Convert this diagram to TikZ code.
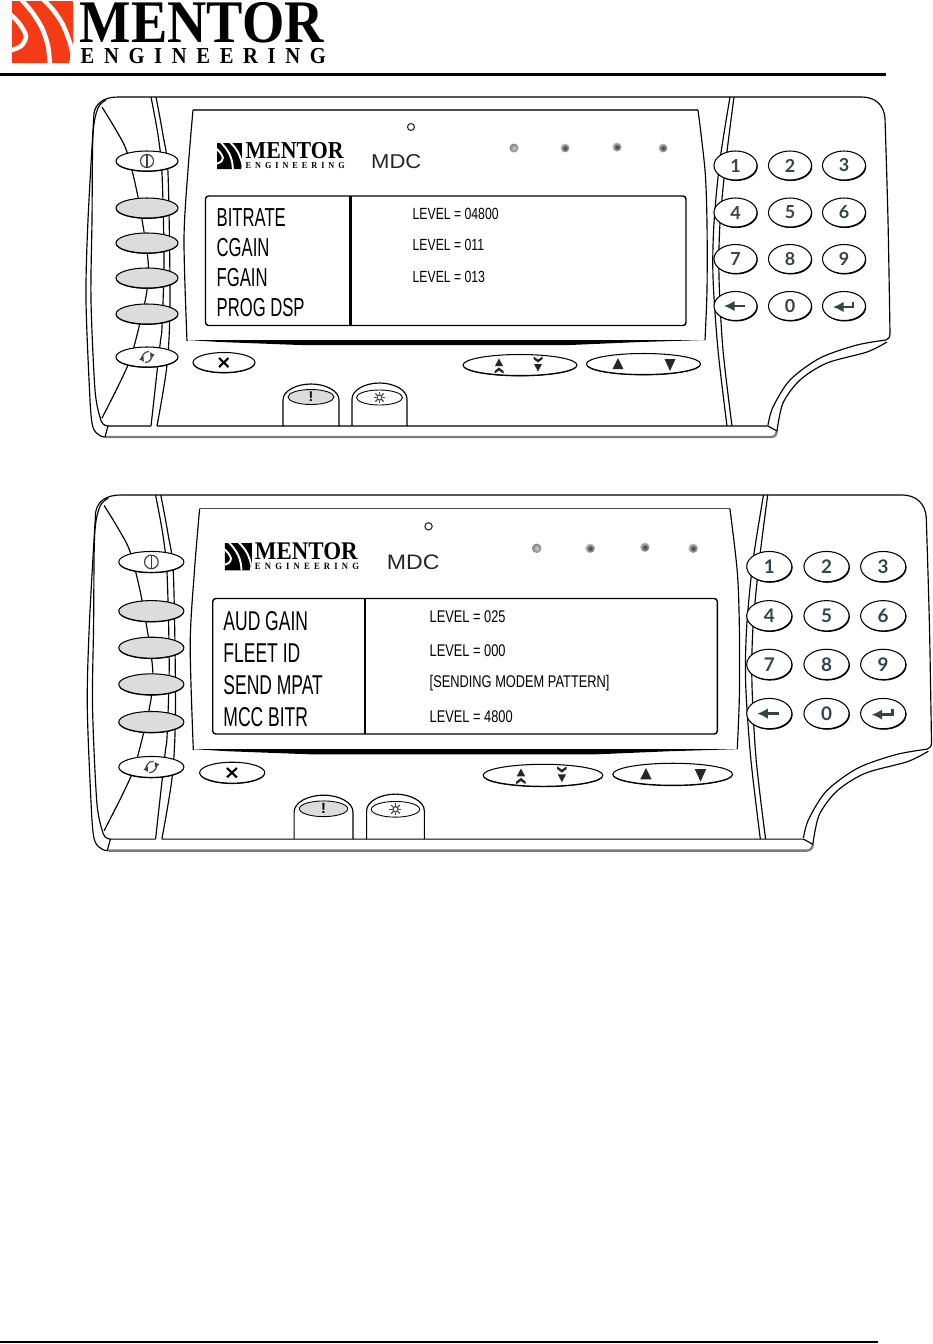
\documentclass[tikz,border=0pt]{standalone}
\usepackage{fontspec}
\setmainfont{Liberation Sans}
\newfontfamily\menufont[FakeStretch=0.64]{Liberation Sans}
\newfontfamily\valfont[FakeStretch=0.755]{Liberation Sans}
\newfontfamily\mdcfont[FakeStretch=1.1]{Liberation Sans}
\newfontfamily\brandfont[FakeStretch=0.90]{Liberation Serif}
\newfontfamily\keyfont{Lato}
\usetikzlibrary{shapes.geometric,shadows,arrows.meta}
\definecolor{logored}{HTML}{F53A17}
\definecolor{btngray}{HTML}{DCDCDC}
\definecolor{icondark}{HTML}{33444D}
\definecolor{basegray}{HTML}{7A7A7A}
\tikzset{
    outline/.style = {line width=0.33pt, black},
    softkey/.style = {ellipse, draw, line width=0.3pt, fill=white, minimum width=0.62cm, minimum height=0.2cm, inner sep=0pt, transform shape,
        general shadow={fill=black, shadow xshift=0pt, shadow yshift=-0.25pt}},
    graykey/.style = {softkey, fill=btngray},
    widekey/.style = {softkey, minimum width=1.14cm, minimum height=0.21cm},
    padkey/.style = {ellipse, draw, line width=0.3pt, fill=white, minimum width=0.43cm, minimum height=0.29cm, inner sep=0pt, transform shape,
        general shadow={fill=black, shadow xshift=0.22pt, shadow yshift=-0.28pt},
        font=\keyfont\bfseries\fontsize{5.1}{5.5}\selectfont, text=icondark},
    tabkey/.style = {ellipse, draw, line width=0.25pt, minimum width=0.46cm, minimum height=0.15cm, inner sep=0pt, transform shape, font=\bfseries\fontsize{4}{4}\selectfont},
    menuitem/.style = {anchor=west, inner sep=0pt, transform shape, font=\menufont\fontsize{7.4}{8}\selectfont},
    levelitem/.style = {anchor=west, inner sep=0pt, transform shape, font=\valfont\fontsize{4.6}{5}\selectfont},
    led/.style = {circle, inner sep=0pt, minimum size=0.09cm, transform shape, inner color=black!80, outer color=black!25},
    firstled/.style = {led, inner color=black!20, outer color=black!50},
    icon/.style = {icondark, line width=0.33pt},
    icontip/.style = {fill=black!85, draw=none},
}

% swoosh mark: x, y, scale, colour, band width
\newcommand{\mentormark}[5]{
    \begin{scope}[shift={(#1,#2)}, scale=#3]
        \clip (0,0) -- (61,0) -- (61,45) -- (57,62) -- (0,62) -- cycle;
        \fill [#4] (0,0) -- (61,0) -- (61,45) -- (57,62) -- (0,62) -- cycle;
        \draw [white, line width=#5] plot [smooth] coordinates {(-3,12) (7,22) (14,35) (9,45) (-3,50)};
        \draw [white, line width=#5] plot [smooth] coordinates {(8,-3) (20,11) (30,27) (36,45) (38,65)};
        \draw [white, line width=#5] plot [smooth] coordinates {(30,-3) (42,10) (51,24) (58,42) (62,60)};
    \end{scope}
}

% the keypad unit, everything but the menu texts
\newcommand{\mdcframe}{
    % housing
    \draw [outline] (118,97) -- (862,97) .. controls (875,97) and (884,105) .. (885,118);
    \draw [outline] plot [smooth] coordinates {(885,118) (888,220) (890,333)};
    \draw [outline] (890,333) .. controls (890,337) and (889,339) .. (886,340);
    \draw [outline] plot [smooth] coordinates {(886,340) (857,345) (820,358) (790,380) (773,407) (768,425)};
    \draw [outline] plot [smooth] coordinates {(887,342) (867,352) (827,363) (800,380) (783,403) (777,431)};
    \draw [outline] (118,97) .. controls (104,97) and (96,103) .. (94,113);
    \draw [outline] plot [smooth] coordinates {(94,113) (88,220) (86,300) (90,400) (92,423)};
    \draw [outline] (92,423) .. controls (93,431) and (98,437) .. (106,437);
    \draw [basegray, line width=0.65pt] (106,437) -- (771,437) .. controls (775,437) and (777,434) .. (777,431);
    \draw [outline] plot [smooth] coordinates {(106,100) (98,108) (93,135) (92,220) (91,300) (95,390) (100,417)};
    \draw [outline] (100,417) .. controls (101,423) and (104,426) .. (108,426) -- (151,426);
    \draw [outline] (108,426) -- (105,437);
    \draw [outline] (157,426) -- (768,426) -- (777,431);
    \draw [outline] plot [smooth] coordinates {(102,107) (116,130) (127,152) (138,197) (148,260) (147,290) (140,323) (128,365) (102,418)};
    \draw [outline] plot [smooth] coordinates {(151,97) (158,135) (162,173) (164,260) (162,327) (160,345) (151,426)};
    \draw [outline] plot [smooth] coordinates {(156,97) (163,135) (168,173) (170,300) (167,365) (157,426)};
    \draw [outline] plot [smooth] coordinates {(730,97) (720,160) (714,223) (713,277) (718,350) (727,426)};
    \draw [outline] plot [smooth] coordinates {(734,97) (726,160) (720,223) (719,277) (723,350) (732,426)};
    % screen
    \draw [outline, line width=0.45pt, black!70] (698,110) -- (193,110);
    \draw [outline] plot [smooth] coordinates {(193,110) (188,170) (184,240) (187,341)};
    \draw [outline] plot [smooth] coordinates {(698,110) (705,170) (707,223) (707,290) (705,340)};
    \fill (187,340) -- (705,340) -- (640,342) -- (570,345) -- (300,345) -- (220,342) -- cycle;
    \draw [line width=0.4pt, rounded corners=0.03cm] (205.5,196) rectangle (686,325.5);
    \draw [line width=0.7pt] (350.5,196) -- (350.5,325.5);
    \node [circle, draw, line width=0.3pt, black!85, minimum size=0.07cm, inner sep=0pt, transform shape] (hole) at (411,127) {};
    \node [firstled] (ledA) at (514,148) {};
    \node [led] (ledB) at (565,148) {};
    \node [led] (ledC) at (617,147) {};
    \node [led] (ledD) at (663,148) {};
    % small brand and MDC
    \mentormark{217}{143}{0.42}{black}{0.55pt}
    \node [anchor=base west, inner sep=0pt, transform shape, font=\brandfont\bfseries\fontsize{6.9}{7}\selectfont] (brandname) at (245,158.5) {MENTOR};
    \node [anchor=base west, inner sep=0pt, transform shape, font=\brandfont\bfseries\fontsize{2.6}{3}\selectfont] (brandsub) at (245,168) {\makebox[0.99cm][s]{E\hfill N\hfill G\hfill I\hfill N\hfill E\hfill E\hfill R\hfill I\hfill N\hfill G}};
    \node [anchor=base west, inner sep=0pt, transform shape, text=black!85, font=\mdcfont\fontsize{5.7}{6}\selectfont] (model) at (370.5,168) {MDC};
    % side keys
    \node [softkey] (power) at (147,161) {};
    \node [graykey] (softA) at (147,208) {};
    \node [graykey] (softB) at (147,243) {};
    \node [graykey] (softC) at (147,278) {};
    \node [graykey] (softD) at (147,314) {};
    \node [softkey] (cycle) at (147,357) {};
    \node [softkey] (cancel) at (224,362.5) {};
    \draw [icon] (147,161) circle [radius=6.5];
    \draw [icon] (147,154.5) -- (147,167.5);
    \draw [icon, -{Latex[length=1.4pt,width=1.6pt]}] (149,351.5) .. controls (143.5,351) and (141.5,358) .. (144,362);
    \draw [icon, -{Latex[length=1.4pt,width=1.6pt]}] (145,362.5) .. controls (150.5,363) and (152.5,356) .. (150,352);
    \draw [line width=0.6pt] (219,358) -- (228.5,367);
    \draw [line width=0.6pt] (228.5,358) -- (219,367);
    % page and line keys
    \node [widekey] (pagekey) at (520,365) {};
    \node [widekey] (linekey) at (643.5,364) {};
    \fill [icontip] (499,358.5) -- (503,366) -- (495,366) -- cycle;
    \fill [icontip] (499,367.5) -- (503.5,371) -- (503.5,373.5) -- (499,370.5) -- (494.5,373.5) -- (494.5,371) -- cycle;
    \fill [icontip] (538,371.5) -- (534,364) -- (542,364) -- cycle;
    \fill [icontip] (538,362.5) -- (533.5,359) -- (533.5,356.5) -- (538,359.5) -- (542.5,356.5) -- (542.5,359) -- cycle;
    \fill [icontip] (618,358) -- (623.5,369) -- (612.5,369) -- cycle;
    \fill [icontip] (670,371) -- (664.5,359) -- (675.5,359) -- cycle;
    % tabs
    \draw [outline] (283,426) -- (283,400) .. controls (283,391) and (296,384) .. (311,384) .. controls (326,384) and (339,391) .. (339,400) -- (339,426);
    \draw [outline] (352,426) -- (352,399) .. controls (352,390) and (365,383) .. (379.5,383) .. controls (394,383) and (407,390) .. (407,399) -- (407,426);
    \node [tabkey, fill=btngray] (alert) at (311,397) {!};
    \node [tabkey] (lamp) at (379.5,397.5) {};
    \draw [icon] (379.5,397.5) circle [radius=2.5];
    \foreach \a in {0,45,...,315}
        \draw [icon] (379.5,397.5) ++(\a:3.2) -- ++(\a:2.5);
    % keypad
    \foreach \lbl/\kx/\ky in {1/735.5/165.5, 2/790/165.5, 3/844/165.5, 4/735.5/212.5, 5/790/212.5, 6/844/212.5, 7/735.5/259, 8/790/259, 9/844/259}
        \node [padkey] (key\lbl) at (\kx,\ky) {\lbl};
    \node [padkey] (keyback) at (735.5,306) {};
    \node [padkey] (keyzero) at (790,306) {0};
    \node [padkey] (keyenter) at (844,306) {};
    \draw [icondark, line width=0.7pt, -{Latex[length=3pt,width=3pt]}] (745,306) -- (724,306);
    \draw [icondark, line width=0.7pt, -{Latex[length=3pt,width=3pt]}] (853,302) -- (853,307) -- (833,307);
}

\begin{document}
\begin{tikzpicture}[x=0.01cm, y=-0.01cm]
    \useasboundingbox (0,0) rectangle (933,1344);
    % letterhead
    \mentormark{12}{1}{1}{logored}{1.3pt}
    \node [anchor=base west, inner sep=0pt, font=\brandfont\bfseries\fontsize{17.2}{18}\selectfont] (mentor) at (79,42) {MENTOR};
    \node [anchor=base west, inner sep=0pt, font=\brandfont\bfseries\fontsize{6.5}{7}\selectfont] (engineering) at (80,63) {\makebox[2.45cm][s]{E\hfill N\hfill G\hfill I\hfill N\hfill E\hfill E\hfill R\hfill I\hfill N\hfill G}};
    \draw [line width=0.85pt] (0,74.5) -- (886,74.5);
    \draw [line width=0.7pt] (0,1342) -- (878,1342);
    % first panel
    \begin{scope}[name prefix=up-]
        \mdcframe
        \node [menuitem] (menuA) at (216,218) {BITRATE};
        \node [menuitem] (menuB) at (216,248) {CGAIN};
        \node [menuitem] (menuC) at (216,278) {FGAIN};
        \node [menuitem] (menuD) at (216,308) {PROG DSP};
        \node [levelitem] (levelA) at (412,214) {LEVEL = 04800};
        \node [levelitem] (levelB) at (412,245) {LEVEL = 011};
        \node [levelitem] (levelC) at (412,277) {LEVEL = 013};
    \end{scope}
    % second panel
    \begin{scope}[name prefix=low-, shift={(-3,393.5)}, xscale=1.05, yscale=1.046]
        \mdcframe
        \node [menuitem] (menuA) at (215,217.6) {AUD GAIN};
        \node [menuitem] (menuB) at (215,247.8) {FLEET ID};
        \node [menuitem] (menuC) at (215,279) {SEND MPAT};
        \node [menuitem] (menuD) at (215,309.6) {MCC BITR};
        \node [levelitem] (levelA) at (411.4,213.8) {LEVEL = 025};
        \node [levelitem] (levelB) at (411.4,245.5) {LEVEL = 000};
        \node [levelitem] (levelC) at (411.4,277) {[SENDING MODEM PATTERN]};
        \node [levelitem] (levelD) at (411.4,308.6) {LEVEL = 4800};
    \end{scope}
\end{tikzpicture}
\end{document}
